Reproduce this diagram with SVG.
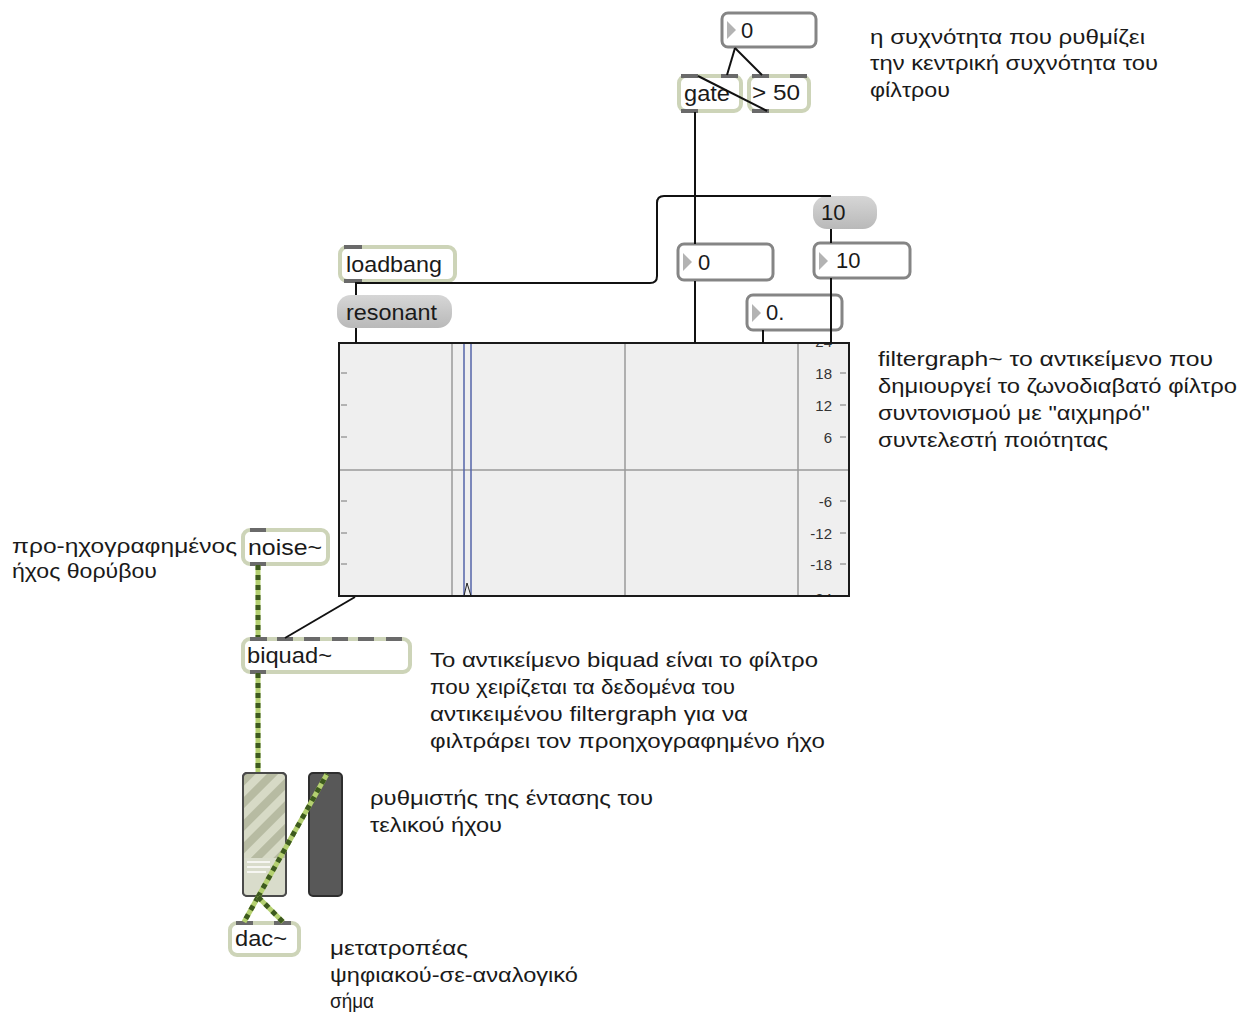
<svg xmlns="http://www.w3.org/2000/svg" width="1251" height="1016" viewBox="0 0 1251 1016">
<style>
text{font-family:"Liberation Sans","DejaVu Sans",sans-serif;fill:#1a1a1a}
.note{font-size:20px}
.lbl{font-size:22px}
.obj{fill:#fff;stroke:#cdd4b8;stroke-width:4}
.num{fill:#fff;stroke:#858585;stroke-width:3}
.tri{fill:#b3b3b3}
.io{fill:#6a6a6a}
.msg{fill:url(#msgG)}
.cord{fill:none;stroke:#111;stroke-width:2}
.sigbg{fill:none;stroke:#b4d070;stroke-width:5}
.sigfg{fill:none;stroke:#3d5a1e;stroke-width:5;stroke-dasharray:5 5}
.grid{stroke:#9a9a9a;stroke-width:1.5}
.tick{stroke:#777;stroke-width:1}
.ax{font-size:15px;fill:#333;text-anchor:end}
</style>
<defs>
<linearGradient id="msgG" x1="0" y1="0" x2="0" y2="1">
<stop offset="0" stop-color="#d6d6d6"/>
<stop offset="1" stop-color="#b9b9b9"/>
</linearGradient>
<pattern id="stripes" width="16" height="16" patternUnits="userSpaceOnUse" patternTransform="rotate(45)">
<rect width="16" height="16" fill="#d7dac6"/>
<rect width="8" height="16" fill="#b7bba2"/>
</pattern>
<clipPath id="fgClip"><rect x="339" y="343" width="510" height="253"/></clipPath>
</defs>

<g id="num-freq">
<rect class="num" x="722" y="13" width="94" height="34" rx="6"/>
<polygon class="tri" points="727,21 736,30 727,39"/>
<text class="lbl" x="741" y="38">0</text>
</g>

<g id="gate">
<rect class="obj" x="679" y="76" width="62" height="35" rx="7"/>
<rect class="io" x="681" y="74" width="17" height="4"/>
<rect class="io" x="721" y="74" width="17" height="4"/>
<rect class="io" x="681" y="109" width="17" height="4"/>
<text class="lbl" x="684" y="101" textLength="46" lengthAdjust="spacingAndGlyphs">gate</text>
</g>

<g id="gt50">
<rect class="obj" x="749" y="76" width="60" height="35" rx="7"/>
<rect class="io" x="752" y="74" width="17" height="4"/>
<rect class="io" x="790" y="74" width="17" height="4"/>
<rect class="io" x="752" y="109" width="17" height="4"/>
<text class="lbl" x="752" y="100" textLength="48" lengthAdjust="spacingAndGlyphs">&gt; 50</text>
</g>

<g id="msg-10">
<rect class="msg" x="813" y="196" width="64" height="33" rx="14"/>
<text class="lbl" x="821" y="220">10</text>
</g>

<g id="loadbang">
<rect class="obj" x="340" y="247" width="115" height="34" rx="7"/>
<rect class="io" x="344" y="245" width="18" height="4"/>
<rect class="io" x="344" y="279" width="18" height="4"/>
<text class="lbl" x="346" y="272" textLength="96" lengthAdjust="spacingAndGlyphs">loadbang</text>
</g>

<g id="num-gate">
<rect class="num" x="678" y="244" width="95" height="36" rx="6"/>
<polygon class="tri" points="683,253 692,262 683,271"/>
<text class="lbl" x="698" y="270">0</text>
</g>

<g id="num-q">
<rect class="num" x="814" y="243" width="96" height="35" rx="6"/>
<polygon class="tri" points="819,252 828,261 819,270"/>
<text class="lbl" x="836" y="268">10</text>
</g>

<g id="msg-resonant">
<rect class="msg" x="337" y="295" width="115" height="33" rx="14"/>
<text class="lbl" x="346" y="320" textLength="91" lengthAdjust="spacingAndGlyphs">resonant</text>
</g>

<g id="num-gain">
<rect class="num" x="747" y="295" width="95" height="35" rx="6"/>
<polygon class="tri" points="752,304 761,313 752,322"/>
<text class="lbl" x="766" y="320">0.</text>
</g>

<g id="filtergraph">
<rect x="339" y="343" width="510" height="253" fill="#efefef"/>
<g clip-path="url(#fgClip)">
<line class="grid" x1="339" y1="470" x2="849" y2="470"/>
<line class="grid" x1="452" y1="343" x2="452" y2="596"/>
<line class="grid" x1="625" y1="343" x2="625" y2="596"/>
<line class="grid" x1="798" y1="343" x2="798" y2="596"/>
<line x1="464" y1="343" x2="464" y2="596" stroke="#5565a8" stroke-width="1.5"/>
<line x1="471" y1="343" x2="471" y2="596" stroke="#5565a8" stroke-width="1.5"/>
<path d="M464,596 L467,583 L471,596" fill="none" stroke="#222" stroke-width="1"/>
<g>
<line class="tick" x1="341" y1="373" x2="347" y2="373"/>
<line class="tick" x1="341" y1="405" x2="347" y2="405"/>
<line class="tick" x1="341" y1="437" x2="347" y2="437"/>
<line class="tick" x1="341" y1="501" x2="347" y2="501"/>
<line class="tick" x1="341" y1="533" x2="347" y2="533"/>
<line class="tick" x1="341" y1="564" x2="347" y2="564"/>
<line class="tick" x1="840" y1="373" x2="846" y2="373"/>
<line class="tick" x1="840" y1="405" x2="846" y2="405"/>
<line class="tick" x1="840" y1="437" x2="846" y2="437"/>
<line class="tick" x1="840" y1="501" x2="846" y2="501"/>
<line class="tick" x1="840" y1="533" x2="846" y2="533"/>
<line class="tick" x1="840" y1="564" x2="846" y2="564"/>
</g>
<text class="ax" x="832" y="347">24</text>
<text class="ax" x="832" y="379">18</text>
<text class="ax" x="832" y="411">12</text>
<text class="ax" x="832" y="443">6</text>
<text class="ax" x="832" y="507">-6</text>
<text class="ax" x="832" y="539">-12</text>
<text class="ax" x="832" y="570">-18</text>
<text class="ax" x="832" y="604">-24</text>
</g>
<rect x="339" y="343" width="510" height="253" fill="none" stroke="#1a1a1a" stroke-width="2"/>
</g>

<g id="noise">
<rect class="obj" x="243" y="530" width="85" height="34" rx="7"/>
<rect class="io" x="250" y="528" width="16" height="4"/>
<rect class="io" x="250" y="562" width="16" height="4"/>
<text class="lbl" x="248" y="555" textLength="74" lengthAdjust="spacingAndGlyphs">noise~</text>
</g>

<g id="biquad">
<rect class="obj" x="243" y="639" width="167" height="33" rx="7"/>
<rect class="io" x="250" y="637" width="17" height="4"/>
<rect class="io" x="277" y="637" width="16" height="4"/>
<rect class="io" x="304" y="637" width="16" height="4"/>
<rect class="io" x="332" y="637" width="16" height="4"/>
<rect class="io" x="358" y="637" width="16" height="4"/>
<rect class="io" x="386" y="637" width="16" height="4"/>
<rect class="io" x="250" y="670" width="16" height="4"/>
<text class="lbl" x="247" y="663" textLength="85" lengthAdjust="spacingAndGlyphs">biquad~</text>
</g>

<g id="gain">
<rect x="243" y="773" width="43" height="123" rx="4" fill="url(#stripes)" stroke="#4a4a4a" stroke-width="2"/>
<rect x="244" y="858" width="41" height="37" fill="#d9dccb"/>
<line x1="247" y1="862" x2="270" y2="862" stroke="#fff" stroke-width="1.5"/>
<line x1="247" y1="867" x2="270" y2="867" stroke="#fff" stroke-width="1.5"/>
<line x1="247" y1="872" x2="266" y2="872" stroke="#fff" stroke-width="1.5"/>
<rect x="243" y="773" width="43" height="123" rx="4" fill="none" stroke="#4a4a4a" stroke-width="2"/>
</g>

<g id="gain2">
<rect x="309" y="773" width="33" height="123" rx="4" fill="#585858" stroke="#2e2e2e" stroke-width="2"/>
</g>

<g id="dac">
<rect class="obj" x="230" y="923" width="69" height="32" rx="7"/>
<rect class="io" x="236" y="921" width="17" height="4"/>
<rect class="io" x="274" y="921" width="17" height="4"/>
<text class="lbl" x="235" y="946" textLength="52" lengthAdjust="spacingAndGlyphs">dac~</text>
</g>

<g id="connectors">
<line class="cord" x1="735" y1="48" x2="727" y2="75"/>
<line class="cord" x1="735" y1="48" x2="762" y2="75"/>
<line class="cord" x1="767" y1="111" x2="698" y2="76"/>
<line class="cord" x1="695" y1="112" x2="695" y2="244"/>
<line class="cord" x1="695" y1="281" x2="695" y2="343"/>
<path class="cord" d="M356,282 V295"/>
<path class="cord" d="M356,283 H650 Q657,283 657,276 V203 Q657,196 664,196 H831"/>
<line class="cord" x1="831" y1="229" x2="831" y2="243"/>
<line class="cord" x1="831" y1="278" x2="831" y2="343"/>
<line class="cord" x1="763" y1="330" x2="763" y2="343"/>
<line class="cord" x1="356" y1="328" x2="356" y2="343"/>
<line class="cord" x1="355" y1="597" x2="285" y2="638"/>
<g>
<path class="sigbg" d="M258,565 V637"/>
<path class="sigfg" d="M258,565 V637"/>
<path class="sigbg" d="M258,673 V772"/>
<path class="sigfg" d="M258,673 V772"/>
<path class="sigbg" d="M258,897 L327,774"/>
<path class="sigfg" d="M258,897 L327,774"/>
<path class="sigbg" d="M258,897 L244,922"/>
<path class="sigfg" d="M258,897 L244,922"/>
<path class="sigbg" d="M258,897 L283,922"/>
<path class="sigfg" d="M258,897 L283,922"/>
</g>
</g>

<g id="notes">
<text class="note" x="870" y="44" textLength="275" lengthAdjust="spacingAndGlyphs">η συχνότητα που ρυθμίζει</text>
<text class="note" x="870" y="70" textLength="288" lengthAdjust="spacingAndGlyphs">την κεντρική συχνότητα του</text>
<text class="note" x="870" y="97" textLength="80" lengthAdjust="spacingAndGlyphs">φίλτρου</text>

<text class="note" x="878" y="366" textLength="335" lengthAdjust="spacingAndGlyphs">filtergraph~ το αντικείμενο που</text>
<text class="note" x="878" y="393" textLength="359" lengthAdjust="spacingAndGlyphs">δημιουργεί το ζωνοδιαβατό φίλτρο</text>
<text class="note" x="878" y="420" textLength="272" lengthAdjust="spacingAndGlyphs">συντονισμού με "αιχμηρό"</text>
<text class="note" x="878" y="447" textLength="230" lengthAdjust="spacingAndGlyphs">συντελεστή ποιότητας</text>

<text class="note" x="12" y="553" textLength="225" lengthAdjust="spacingAndGlyphs">προ-ηχογραφημένος</text>
<text class="note" x="12" y="578" textLength="145" lengthAdjust="spacingAndGlyphs">ήχος θορύβου</text>

<text class="note" x="430" y="667" textLength="388" lengthAdjust="spacingAndGlyphs">Το αντικείμενο biquad είναι το φίλτρο</text>
<text class="note" x="430" y="694" textLength="305" lengthAdjust="spacingAndGlyphs">που χειρίζεται τα δεδομένα του</text>
<text class="note" x="430" y="721" textLength="318" lengthAdjust="spacingAndGlyphs">αντικειμένου filtergraph για να</text>
<text class="note" x="430" y="748" textLength="395" lengthAdjust="spacingAndGlyphs">φιλτράρει τον προηχογραφημένο ήχο</text>

<text class="note" x="370" y="805" textLength="283" lengthAdjust="spacingAndGlyphs">ρυθμιστής της έντασης του</text>
<text class="note" x="370" y="832" textLength="132" lengthAdjust="spacingAndGlyphs">τελικού ήχου</text>

<text class="note" x="330" y="955" textLength="138" lengthAdjust="spacingAndGlyphs">μετατροπέας</text>
<text class="note" x="330" y="982" textLength="248" lengthAdjust="spacingAndGlyphs">ψηφιακού-σε-αναλογικό</text>
<text class="note" x="330" y="1008" textLength="44" lengthAdjust="spacingAndGlyphs">σήμα</text>
</g>
</svg>
